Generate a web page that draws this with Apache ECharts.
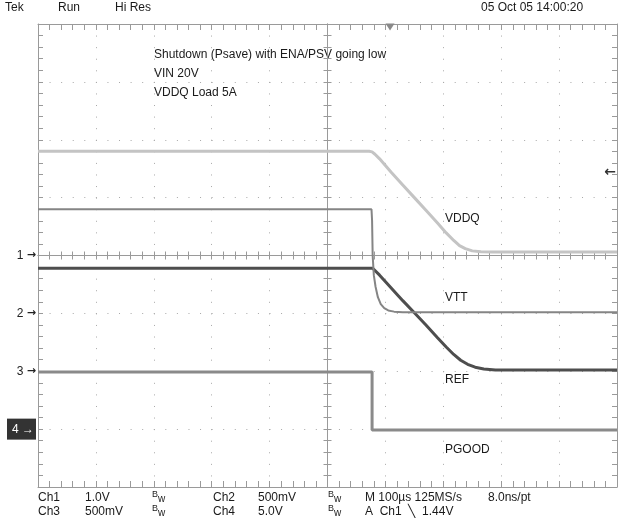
<!DOCTYPE html>
<html><head><meta charset="utf-8">
<script src="https://cdn.jsdelivr.net/npm/echarts@6/dist/echarts.min.js"></script>
<style>html,body{margin:0;padding:0;background:#fff}#c{width:623px;height:525px}</style>
</head><body><div id="c"></div>
<script>
// ---- scope settings ----
const voltsPerDiv = [1.0, 0.5, 0.5, 5.0];   // Ch1..Ch4
const groundDiv   = [4, 3, 2, 1];           // ground marker positions (divisions from bottom)
const timePerDivUs = 100;
const triggerTimeUs = 608;
const triggerLevelV = 1.44;

// ---- traces (time in µs, value in volts) ----
const vddqTime  = [0, 572, 577, 582, 590, 610, 630, 650, 670, 690, 705, 718, 728, 738, 750, 765, 785, 820, 1000];
const vddqVolts = [1.80, 1.80, 1.79, 1.75, 1.67, 1.44, 1.22, 1.00, 0.78, 0.56, 0.39, 0.26, 0.17, 0.12, 0.08, 0.065, 0.06, 0.06, 0.06];

const vttTime  = [0, 576, 577, 578, 580, 583, 587, 592, 598, 605, 615, 630, 1000];
const vttVolts = [0.90, 0.90, 0.80, 0.50, 0.33, 0.23, 0.14, 0.08, 0.045, 0.025, 0.015, 0.01, 0.01];

const refTime  = [0, 578, 590, 610, 630, 650, 670, 690, 705, 718, 730, 742, 755, 770, 790, 1000];
const refVolts = [0.89, 0.89, 0.83, 0.72, 0.61, 0.505, 0.40, 0.29, 0.21, 0.145, 0.095, 0.06, 0.035, 0.02, 0.01, 0.01];

const pgoodTime  = [0, 577, 577, 1000];
const pgoodVolts = [4.93, 4.93, -0.07, -0.07];

const traceNames = ['VDDQ', 'VTT', 'REF', 'PGOOD'];

function toDiv(times, volts, ch) {
  return times.map((t, i) => [t, groundDiv[ch] + volts[i] / voltsPerDiv[ch]]);
}

const FONT = 'Liberation Sans';
const AX = '#9a9a9a';
const GL = {left: 38, right: 6, top: 24, height: 463, outerBoundsMode: 'none', containLabel: false};

function borderX(pos) {
  return {gridIndex: 0, type: 'value', min: 0, max: 10 * timePerDivUs, interval: timePerDivUs, position: pos,
    axisLine: {show: true, onZero: false, lineStyle: {color: AX, width: 1}},
    axisTick: {show: true, inside: true, length: 6, lineStyle: {color: AX}},
    minorTick: {show: true, splitNumber: 5, length: 6, lineStyle: {color: AX}},
    axisLabel: {show: false},
    splitLine: {show: pos === 'bottom', lineStyle: {color: '#a8a8a8', width: 1, type: [1, 10.575]}}};
}
function borderY(pos, labels) {
  return {gridIndex: 0, type: 'value', min: 0, max: 8, interval: 1, position: pos,
    axisLine: {show: true, onZero: false, lineStyle: {color: AX, width: 1}},
    axisTick: {show: true, inside: true, length: 5, lineStyle: {color: AX}},
    minorTick: {show: true, splitNumber: 5, length: 5, lineStyle: {color: AX}},
    axisLabel: labels ? {show: true, margin: 2, fontFamily: FONT, fontSize: 12, color: '#222',
      formatter: v => {
        const i = groundDiv.indexOf(v);
        if (i < 0) return '';
        return i === 3 ? '{box|' + (i + 1) + ' \u2192}' : '{n|' + (i + 1) + '} {a|\u2192}';
      },
      rich: {
        n: {fontFamily: FONT, fontSize: 12, color: '#222'},
        a: {fontFamily: 'DejaVu Sans', fontSize: 11, fontWeight: 'bold', color: '#222'},
        box: {backgroundColor: '#333', color: '#fff', fontFamily: FONT, fontSize: 12, padding: [5, 2, 4, 5]}
      }
    } : {show: false},
    splitLine: {show: pos === 'left', lineStyle: {color: '#a8a8a8', width: 1, type: [1, 10.575]}}};
}
function crossX(pos) {
  return {gridIndex: 1, type: 'value', min: -5, max: 5, interval: 1, position: pos,
    axisLine: {show: true, onZero: true, lineStyle: {color: AX}},
    axisTick: {show: true, inside: true, length: 4, lineStyle: {color: AX}},
    minorTick: {show: true, splitNumber: 5, length: 4, lineStyle: {color: AX}},
    axisLabel: {show: false}, splitLine: {show: false}};
}
function crossY(pos) {
  return {gridIndex: 1, type: 'value', min: -4, max: 4, interval: 1, position: pos,
    axisLine: {show: true, onZero: true, lineStyle: {color: AX}},
    axisTick: {show: true, inside: true, length: 4, lineStyle: {color: AX}},
    minorTick: {show: true, splitNumber: 5, length: 4, lineStyle: {color: AX}},
    axisLabel: {show: false}, splitLine: {show: false}};
}

const traceStyles = [
  {color: '#c4c4c4', width: 3},
  {color: '#858585', width: 2},
  {color: '#4e4e4e', width: 3},
  {color: '#8a8a8a', width: 3}
];
const traceData = [
  toDiv(vddqTime, vddqVolts, 0),
  toDiv(vttTime, vttVolts, 1),
  toDiv(refTime, refVolts, 2),
  toDiv(pgoodTime, pgoodVolts, 3)
];

const series = traceNames.map((n, i) => ({
  name: n, type: 'line', xAxisIndex: 0, yAxisIndex: 0, data: traceData[i],
  showSymbol: false, silent: true, animation: false, z: 10 - i,
  lineStyle: {color: traceStyles[i].color, width: traceStyles[i].width}
}));
series[0].markPoint = {
  silent: true, animation: false,
  data: [
    {coord: [10 * timePerDivUs, groundDiv[0] + triggerLevelV / voltsPerDiv[0]], symbol: 'circle', symbolSize: 0,
     label: {show: true, formatter: '\u2190', position: 'left', distance: 1, color: '#333', fontFamily: 'DejaVu Sans', fontSize: 14, fontWeight: 'bold'}},
    {coord: [triggerTimeUs, 8], symbol: 'triangle', symbolRotate: 180, symbolSize: [9, 7], symbolOffset: [0, 3],
     itemStyle: {color: '#8a8a8a'}, label: {show: false}}
  ]
};

function txt(x, y, s, extra) {
  return Object.assign({type: 'text', x: x, y: y, silent: true,
    style: {text: s, fontFamily: FONT, fontSize: 12, fill: '#1a1a1a', textVerticalAlign: 'middle'}}, extra || {});
}
function bw(x, y) {
  return {type: 'text', x: x, y: y, silent: true,
    style: {text: '{b|B}{w|w}', fontFamily: FONT, textVerticalAlign: 'middle',
      rich: {b: {fontSize: 9, fontFamily: FONT, fill: '#222', color: '#222', verticalAlign: 'top'},
             w: {fontSize: 10, fontFamily: FONT, fill: '#222', color: '#222', padding: [4, 0, 0, 0]}}}};
}

const graphics = [
  txt(5, 8, 'Tek'), txt(58, 8, 'Run'), txt(115, 8, 'Hi Res'), txt(481, 8, '05 Oct 05 14:00:20'),
  txt(154, 55, 'Shutdown (Psave) with ENA/PSV going low'),
  txt(154, 74, 'VIN 20V'),
  txt(154, 93, 'VDDQ Load 5A'),
  txt(445, 219, 'VDDQ'), txt(445, 298, 'VTT'), txt(445, 380, 'REF'), txt(445, 450, 'PGOOD'),
  txt(38, 498, 'Ch1'), txt(85, 498, '1.0V'), bw(152, 497), txt(213, 498, 'Ch2'), txt(258, 498, '500mV'), bw(328, 497),
  txt(365, 498, 'M 100\u00b5s 125MS/s'), txt(488, 498, '8.0ns/pt'),
  txt(38, 512, 'Ch3'), txt(85, 512, '500mV'), bw(152, 511), txt(213, 512, 'Ch4'), txt(258, 512, '5.0V'), bw(328, 511),
  txt(365, 512, 'A  Ch1  \u2572  1.44V')
];

const chart = echarts.init(document.getElementById('c'), null, {renderer: 'canvas'});
chart.setOption({
  animation: false,
  backgroundColor: '#ffffff',
  grid: [Object.assign({}, GL), Object.assign({}, GL)],
  xAxis: [borderX('bottom'), borderX('top'), crossX('bottom'), crossX('top')],
  yAxis: [borderY('left', true), borderY('right', false), crossY('left'), crossY('right')],
  series: series,
  graphic: graphics
});
</script></body></html>
